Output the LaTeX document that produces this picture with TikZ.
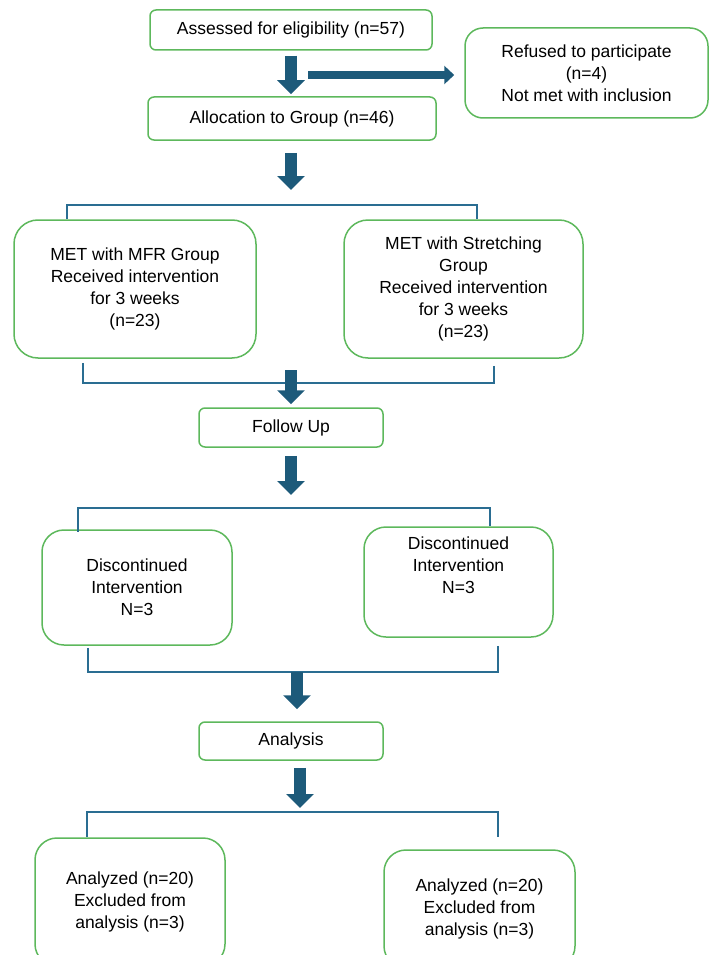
\documentclass[tikz,border=0pt]{standalone}
\usepackage{fontspec}
\setmainfont{Liberation Sans}
\usetikzlibrary{arrows.meta,positioning}

\definecolor{boxgreen}{HTML}{5DB85C}
\definecolor{flowteal}{HTML}{1D5A7A}
\definecolor{linkteal}{HTML}{2A6D92}

\tikzset{
  stagebox/.style={draw=boxgreen, line width=1.5pt, rounded corners=6pt,
    align=center, inner sep=0pt, font=\fontsize{17.5}{22}\selectfont},
  armbox/.style={stagebox, rounded corners=24pt},
  bigarrow/.style={flowteal, line width=12pt, -{Triangle[width=27pt,length=14pt]}},
  sidearrow/.style={flowteal, line width=8pt, -{Triangle[width=18pt,length=10pt]}},
  bracket/.style={linkteal, line width=2pt}
}

\begin{document}
\begin{tikzpicture}[x=1pt,y=-1pt]
    \path[use as bounding box, clip] (0,0) rectangle (710,955);

    % enrolment
    \node[stagebox, minimum width=282pt, minimum height=40pt] (assess) at (291,30)
      {Assessed for eligibility (n=57)};
    \node[stagebox, rounded corners=18pt, minimum width=243pt, minimum height=90pt] (refused) at (586.5,73)
      {Refused to participate\\(n=4)\\Not met with inclusion};
    \node[stagebox, minimum width=288pt, minimum height=43pt] (alloc) at (292,118.5)
      {Allocation to Group (n=46)};

    \coordinate (sidestart) at (308,75);
    \draw[bigarrow] ([yshift=-5pt]assess.south) -- ([yshift=2pt]alloc.north -| assess.south);
    \draw[sidearrow] (sidestart) -- ([xshift=-10pt]sidestart -| refused.west);

    % groups
    \node[armbox, minimum width=242pt, minimum height=138pt] (mfr) at (135,289)
      {MET with MFR Group\\Received intervention\\for 3 weeks\\(n=23)};
    \node[armbox, minimum width=239pt, minimum height=138pt] (stretch) at (463.5,289)
      {MET with Stretching\\Group\\Received intervention\\for 3 weeks\\(n=23)};

    \coordinate (split1) at (291,205);
    \draw[bigarrow] ([yshift=-12pt]alloc.south -| split1) -- ([yshift=15pt]split1);
    \draw[bracket] (split1) -| ([xshift=-68pt]mfr.north);
    \draw[bracket] (split1) -| ([xshift=13.5pt]stretch.north);

    % follow up
    \node[stagebox, minimum width=184pt, minimum height=39pt] (follow) at (291,427.5) {Follow Up};

    \coordinate (join1) at (291,383);
    \draw[bracket] ([xshift=-52pt,yshift=-4pt]mfr.south) |- (join1);
    \draw[bracket] ([xshift=30.5pt,yshift=-7pt]stretch.south) |- (join1);
    \draw[bigarrow] ([yshift=13pt]join1) -- ([yshift=3pt]follow.north);

    % discontinued
    \node[armbox, rounded corners=22pt, minimum width=190pt, minimum height=115pt] (discL) at (137,587.5)
      {Discontinued\\Intervention\\N=3};
    \node[armbox, rounded corners=22pt, minimum width=189pt, minimum height=110pt] (discR) at (458.5,582)
      {Discontinued\\Intervention\\N=3\\[12pt]};

    \coordinate (split2) at (291,508);
    \draw[bigarrow] ([yshift=-8pt]follow.south) -- ([yshift=13pt]split2);
    \draw[bracket] (split2) -| ([xshift=-59pt,yshift=-3pt]discL.north);
    \draw[bracket] (split2) -| ([xshift=31.5pt]discR.north);

    % analysis
    \node[stagebox, minimum width=184pt, minimum height=38pt] (analysis) at (291,741) {Analysis};

    \coordinate (join2) at (297,672);
    \draw[bracket] ([xshift=-49pt,yshift=-2pt]discL.south) |- (join2);
    \draw[bracket] ([xshift=39.5pt,yshift=-8pt]discR.south) |- (join2);
    \draw[bigarrow] (join2) -- ([yshift=12pt]analysis.north -| join2);

    % analysed
    \node[armbox, rounded corners=22pt, minimum width=190pt, minimum height=128pt] (anaL) at (130,902)
      {Analyzed (n=20)\\Excluded from\\analysis (n=3)};
    \node[armbox, rounded corners=22pt, minimum width=191pt, minimum height=118pt] (anaR) at (479.5,909)
      {Analyzed (n=20)\\Excluded from\\analysis (n=3)};

    \coordinate (split3) at (300,812);
    \draw[bigarrow] ([yshift=-7pt]analysis.south -| split3) -- ([yshift=4pt]split3);
    \draw[bracket] (split3) -| ([xshift=-43pt]anaL.north);
    \draw[bracket] (split3) -| ([xshift=18.5pt,yshift=12pt]anaR.north);
\end{tikzpicture}
\end{document}
